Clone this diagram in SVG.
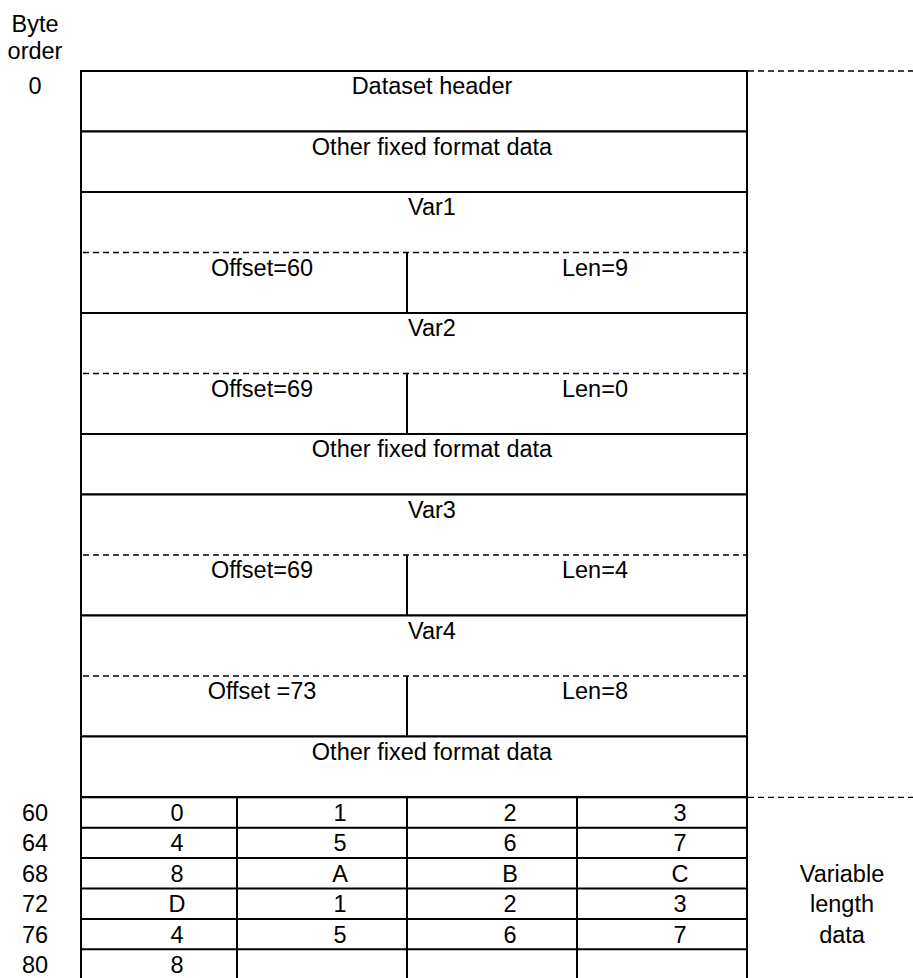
<svg xmlns="http://www.w3.org/2000/svg" width="913" height="978" viewBox="0 0 913 978">
<style>
text{font-family:"Liberation Sans",Arial,sans-serif;font-size:23.5px;fill:#000;text-anchor:middle}
.box{fill:#fff;stroke:#000;stroke-width:2}
.ln{stroke:#000;stroke-width:2;fill:none}
.dash{stroke:#000;stroke-width:1.3;stroke-dasharray:6 4;fill:none}
</style>
<rect width="913" height="978" fill="#fff"/>
<g id="labels-left">
<text x="35" y="31.7">Byte</text>
<text x="35" y="59.3">order</text>
<text x="35" y="94.3">0</text>
<text x="35" y="821">60</text>
<text x="35" y="851.4">64</text>
<text x="35" y="881.8">68</text>
<text x="35" y="912.2">72</text>
<text x="35" y="942.6">76</text>
<text x="35" y="973">80</text>
</g>
<g id="dataset-header"><rect class="box" x="81" y="71" width="666" height="60.5"/><text x="432" y="94.3">Dataset header</text></g>
<g id="fixed1"><rect class="box" x="81" y="131.5" width="666" height="60.5"/><text x="432" y="154.8">Other fixed format data</text></g>
<g id="var1">
<rect class="box" x="81" y="192" width="666" height="121"/>
<line class="dash" x1="83" y1="252.5" x2="746" y2="252.5"/>
<line class="ln" x1="407" y1="252.5" x2="407" y2="313"/>
<text x="432" y="215.3">Var1</text>
<text x="262" y="275.8">Offset=60</text>
<text x="595" y="275.8">Len=9</text>
</g>
<g id="var2">
<rect class="box" x="81" y="313" width="666" height="121"/>
<line class="dash" x1="83" y1="373.5" x2="746" y2="373.5"/>
<line class="ln" x1="407" y1="373.5" x2="407" y2="434"/>
<text x="432" y="336.3">Var2</text>
<text x="262" y="396.8">Offset=69</text>
<text x="595" y="396.8">Len=0</text>
</g>
<g id="fixed2"><rect class="box" x="81" y="434" width="666" height="60.5"/><text x="432" y="457.3">Other fixed format data</text></g>
<g id="var3">
<rect class="box" x="81" y="494.5" width="666" height="121"/>
<line class="dash" x1="83" y1="555" x2="746" y2="555"/>
<line class="ln" x1="407" y1="555" x2="407" y2="615.5"/>
<text x="432" y="517.8">Var3</text>
<text x="262" y="578.3">Offset=69</text>
<text x="595" y="578.3">Len=4</text>
</g>
<g id="var4">
<rect class="box" x="81" y="615.5" width="666" height="121"/>
<line class="dash" x1="83" y1="676" x2="746" y2="676"/>
<line class="ln" x1="407" y1="676" x2="407" y2="736.5"/>
<text x="432" y="638.8">Var4</text>
<text x="262" y="699.3">Offset =73</text>
<text x="595" y="699.3">Len=8</text>
</g>
<g id="fixed3"><rect class="box" x="81" y="736.5" width="666" height="60.5"/><text x="432" y="759.8">Other fixed format data</text></g>
<g id="variable-data">
<rect class="box" x="81" y="797.3" width="666" height="184"/>
<path class="ln" d="M81 827.7H747M81 858.1H747M81 888.5H747M81 918.9H747M81 949.3H747M237 797.3V980M407 797.3V980M577 797.3V980"/>
<text x="177" y="821">0</text><text x="340" y="821">1</text><text x="510" y="821">2</text><text x="680" y="821">3</text>
<text x="177" y="851.4">4</text><text x="340" y="851.4">5</text><text x="510" y="851.4">6</text><text x="680" y="851.4">7</text>
<text x="177" y="881.8">8</text><text x="340" y="881.8">A</text><text x="510" y="881.8">B</text><text x="680" y="881.8">C</text>
<text x="177" y="912.2">D</text><text x="340" y="912.2">1</text><text x="510" y="912.2">2</text><text x="680" y="912.2">3</text>
<text x="177" y="942.6">4</text><text x="340" y="942.6">5</text><text x="510" y="942.6">6</text><text x="680" y="942.6">7</text>
<text x="177" y="973">8</text>
</g>
<g id="variable-label">
<text x="842" y="881.8">Variable</text>
<text x="842" y="912.2">length</text>
<text x="842" y="942.6">data</text>
</g>
<g id="connectors">
<line class="dash" x1="748" y1="71" x2="913" y2="71"/>
<line class="dash" x1="748" y1="797.3" x2="913" y2="797.3"/>
</g>
</svg>
